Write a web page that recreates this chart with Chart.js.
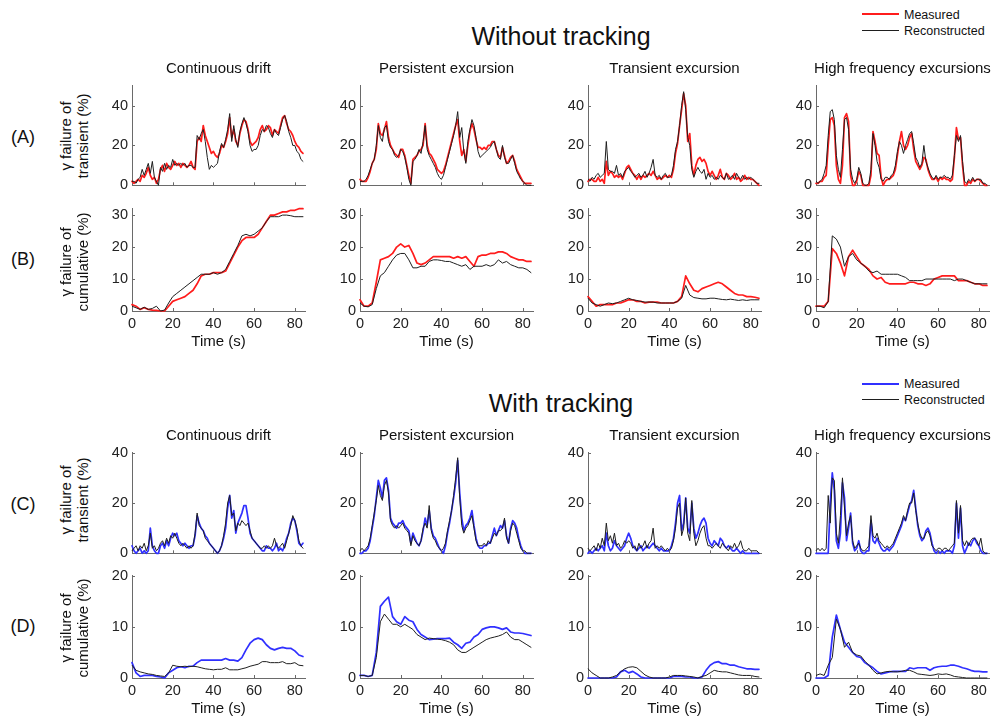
<!DOCTYPE html>
<html>
<head>
<meta charset="utf-8">
<script src="https://cdn.jsdelivr.net/npm/chart.js@4/dist/chart.umd.min.js"></script>
<style>
  html, body { margin: 0; padding: 0; background: #fff; }
  body { width: 994px; height: 720px; position: relative; overflow: hidden;
         font-family: "Liberation Sans", Arial, Helvetica, sans-serif; color: #111; }
  .t { position: absolute; white-space: nowrap; line-height: 1; }
  .yt { position: absolute; white-space: nowrap; line-height: 17px; text-align: center; }
  canvas { position: absolute; }
  .lg { position: absolute; }
</style>
</head>
<body>
<script>
// ---------------- DATA ----------------
const sectionTitles = ["Without tracking", "With tracking"];
const panelTitles = ["Continuous drift", "Persistent excursion", "Transient excursion", "High frequency excursions"];
const rowLabels = ["(A)", "(B)", "(C)", "(D)"];
const yTitles = [["γ failure of", "transient (%)"], ["γ failure of", "cumulative (%)"],
                 ["γ failure of", "transient (%)"], ["γ failure of", "cumulative (%)"]];
const seriesNames = ["Measured", "Reconstructed"];
const xAxisTitle = "Time (s)";

const timeFine = [0,1,2,3,4,5,6,7,8,9,10,11,12,13,14,15,16,17,18,19,20,21,22,23,24,25,26,27,28,29,
  30,31,32,33,34,35,36,37,38,39,40,41,42,43,44,45,46,47,48,49,50,51,52,53,54,55,56,57,58,59,
  60,61,62,63,64,65,66,67,68,69,70,71,72,73,74,75,76,77,78,79,80,81,82,83,84];
const timeCoarse = [0,2,4,6,8,10,12,14,16,18,20,22,24,26,28,30,32,34,36,38,40,42,44,46,48,50,
  52,54,56,58,60,62,64,66,68,70,72,74,76,78,80,82,84];

const xTicks = [0,20,40,60,80];
const yTicksTransNoTrack = [0,20,40];
const yTicksCumNoTrack = [0,10,20,30];
const yTicksTransTrack = [0,20,40];
const yTicksCumTrack = [0,10,20];

// (A) without tracking, transient
const ntTransDriftMeas = [2,1,2,3,2,5,4,6,9,5, 3,4,1,3,8,10,7,11,9,8, 10,12,10,11,9,11,10,9,10,12, 9,8,22,24,22,30,25,22,19,16, 17,15,14,16,20,19,22,26,34,24, 28,22,20,26,30,33,32,28,22,20, 21,22,24,28,30,27,28,30,29,25, 28,27,26,30,34,35,31,28,27,25, 22,20,19,17,16];
const ntTransDriftRec = [2,2,1,3,4,8,5,8,11,6, 12,4,2,0,9,7,11,8,10,9, 13,10,11,10,11,10,11,9,10,10, 9,9,25,23,26,28,22,14,8,10, 9,10,11,17,21,19,23,28,36,22, 30,23,19,27,31,34,31,27,20,17, 18,18,20,25,28,27,30,29,26,24, 28,26,25,29,33,35,32,27,24,20, 20,17,16,13,12];
const ntTransPersMeas = [3,2,2,2,4,7,11,13,18,31, 26,25,28,32,24,20,18,16,15,14, 18,18,15,10,5,1,13,14,15,17, 18,20,31,20,16,15,13,11,8,7, 6,7,10,14,18,22,26,30,33,22, 15,18,12,20,27,31,28,23,19,19, 18,19,18,20,20,22,22,18,15,14, 19,15,11,12,14,15,12,8,6,4, 2,1,1,1,1];
const ntTransPersRec = [2,2,2,3,5,8,11,13,20,30, 24,22,29,30,22,19,18,15,14,15, 18,17,14,9,3,0,12,13,15,18, 16,22,30,18,15,13,11,9,6,4, 3,5,9,13,17,21,25,30,37,24, 29,17,11,22,28,33,30,24,17,14, 15,16,17,18,19,21,22,18,14,13, 20,14,11,11,13,15,11,7,5,3, 2,1,0,0,0];
const ntTransTranMeas = [2,3,3,2,2,4,2,3,1,12, 5,7,6,4,5,4,5,3,6,9, 10,8,6,5,3,5,3,5,4,5, 6,5,7,5,3,4,3,4,5,4, 5,4,8,16,21,30,38,46,40,22, 26,10,5,10,13,14,12,13,11,7, 5,7,5,3,5,8,4,3,6,5, 3,4,6,3,4,2,3,5,3,4, 3,3,2,1,0];
const ntTransTranRec = [3,2,4,3,5,6,4,5,6,22, 8,7,7,6,10,5,6,4,7,8, 9,7,6,4,5,6,4,5,7,4, 6,9,13,5,4,5,3,5,6,4, 4,5,10,18,22,30,40,47,38,24, 20,8,4,7,9,7,6,8,3,6, 4,5,3,4,3,5,4,3,6,3, 4,5,3,6,4,3,5,3,4,3, 4,3,2,1,1];
const ntTransHfMeas = [1,1,2,2,4,5,20,33,34,30, 10,3,1,10,34,36,32,5,0,0, 2,7,5,0,0,0,0,5,27,22, 16,15,4,0,2,3,3,4,5,8, 15,22,27,20,18,20,24,26,18,12, 10,8,10,14,13,8,5,3,3,4, 2,4,3,4,3,3,2,3,14,29, 23,24,10,0,0,2,1,3,2,3, 3,2,1,0,0];
const ntTransHfRec = [2,1,2,3,6,10,25,37,38,33, 15,8,4,18,33,34,28,8,3,1, 3,9,6,1,0,0,1,8,26,20, 12,9,3,2,4,4,3,5,6,10, 17,22,20,16,20,23,26,27,21,14, 12,9,11,20,12,9,6,4,3,5, 3,4,4,5,4,4,3,5,15,25, 22,25,12,2,1,3,2,4,2,3, 3,3,1,1,0];

// (B) without tracking, cumulative
const ntCumDriftMeas = [2,1.5,0.5,1,0.5,0.3,0.2,0,0,1.5, 3,3.5,4,4.5,5.5,6.5,8.5,11,11.5,11.5, 12,12,12,12.5,15,17.5,20,22,23,23, 23,24,26,28,30,30,30.5,31,31,31.5, 31.5,32,32];
const ntCumDriftRec = [1.5,1,0.5,1.2,0.5,0.8,1.5,0,0.3,2.5, 4.5,5.5,6.5,7.5,8.5,9.5,10.5,11.5,11.5,11.5, 12,11.5,12,13,15.5,18,20.5,23.5,24,23.5, 24,25,26,28,29.5,29.5,29.5,30,30,29.8, 29.5,29.5,29.5];
const ntCumPersMeas = [3.5,1.5,1.5,2.5,9,16,16.5,17,18,20, 21,20,20.5,18,15,14.5,15,16,17,17, 17,17,17,16.5,17,16.5,17,15.5,14,17, 17.5,17.5,18,18,18.5,18.5,18,17,16.5,16, 16,15.5,15.5];
const ntCumPersRec = [2.5,1.5,1.3,2,7,11,12,14,16,17.5, 18,18,16,13.5,13.5,14,14,15.5,16,16, 15.8,15.5,15.5,15,14.5,14,14.5,13,14,14, 14,14.5,14,14.5,16,15,15.5,14.5,14,13.5, 13.5,13,12];
const ntCumTranMeas = [4.5,3,1.5,2,2,2,2,2.5,2.5,3, 3.5,3.5,3,3,2.5,2.8,2.8,2.8,2.5,2.5, 2.5,2.5,3,4.5,11,8.5,6.5,6,7,7.5, 8,8.5,9,8.5,7.5,6.5,5.5,5,5,4.5, 4.5,4.3,4];
const ntCumTranRec = [4,2.5,2,1.5,2,2.5,2.3,2.5,3,3.5, 4,3.5,3.3,3,2.8,2.8,2.8,2.5,2.5,2.5, 2.5,2.5,3,4,8,5,4.2,4,3.8,3.8, 4,4,3.8,3.6,3.5,3.7,3.5,3.3,3.5,3.3, 3.5,3.5,3.5];
const ntCumHfMeas = [1.5,1.5,1.5,3,19.5,18,15,11,17,19, 17,15,14,13,11,10,10.5,9,8.5,8.5, 8.5,8.5,8.5,9,9,8.5,8.5,8,8.5,10, 10.5,11,11,11,11,9.5,9.5,9.5,9,8.5, 8.5,8,8];
const ntCumHfRec = [1.5,1.5,1,3,23.5,22.5,20,14,17,18, 16,15,14,12.5,12,12.5,11.5,11.5,11.5,11.5, 11.5,11,10.5,9.5,9.5,9.5,9.5,10,10,10, 10,10,10,10,9.5,10,10,9.5,9,8.5, 8.5,8.5,8.5];

// (C) with tracking, transient
const trTransDriftMeas = [3,1,0,1,2,0,1,0,1,10, 3,1,0,0,3,4,2,5,3,6, 8,7,8,5,4,3,4,3,2,3, 3,7,15,12,10,9,7,6,4,3, 2,1,0,1,3,6,10,18,23,14, 17,8,12,14,16,19,19,14,8,6, 5,4,3,2,1,1,3,2,2,1, 2,4,1,2,1,3,6,8,12,14, 13,9,4,3,4];
const trTransDriftRec = [1,2,3,1,3,2,4,1,3,8, 2,3,1,2,4,5,3,6,4,7, 6,8,6,4,3,4,3,2,3,2, 3,8,16,11,10,9,6,5,4,3, 2,1,0,1,3,7,12,20,23,15, 16,9,12,11,13,12,11,12,9,6, 5,4,3,2,2,3,2,3,2,3, 6,3,2,3,4,2,5,8,11,15, 13,10,5,3,2];
const trTransPersMeas = [0,0,1,1,2,5,10,15,22,29, 26,22,29,30,25,14,12,11,10,12, 12,13,11,10,9,4,8,6,4,3, 5,9,14,11,17,10,7,6,4,2, 1,0,3,8,12,17,22,28,37,24, 14,9,11,12,14,17,11,6,3,2, 2,3,3,4,4,7,10,7,9,11, 10,13,7,4,10,13,12,10,6,3, 1,0,0,0,0];
const trTransPersRec = [1,2,1,2,3,6,11,16,21,27, 23,21,27,29,24,13,11,10,11,10, 11,12,10,9,8,3,7,5,4,3, 5,10,12,10,19,9,6,5,3,2, 1,2,4,9,13,17,23,30,38,22, 11,8,10,11,13,15,10,5,3,3, 3,4,3,5,4,6,8,7,9,9, 10,14,6,4,9,12,11,8,5,2, 1,1,0,0,0];
const trTransTranMeas = [0,1,0,1,2,1,2,3,1,8, 3,1,2,5,3,2,1,2,3,6, 8,6,3,2,1,2,3,1,2,3, 2,3,4,3,2,1,2,1,1,1, 1,3,6,12,20,23,9,12,22,10, 8,20,10,6,8,11,13,14,12,6, 4,3,5,4,3,6,5,3,2,3, 2,1,1,2,1,0,1,0,0,0, 0,0,0,0,0];
const trTransTranRec = [2,1,2,3,1,4,2,6,3,12, 5,7,4,8,3,4,2,3,5,4, 5,4,2,3,1,4,2,3,5,2, 4,5,10,2,3,2,3,2,1,2, 1,2,5,10,18,20,7,10,22,8, 5,21,8,3,5,8,10,11,6,3, 3,2,3,4,3,2,4,3,2,1, 3,2,4,2,3,5,2,1,1,2, 1,1,1,1,0];
const trTransHfMeas = [0,0,0,0,0,0,0,20,32,25, 5,2,8,28,22,5,10,16,4,1, 2,5,1,0,0,1,1,13,5,4, 6,4,2,1,1,2,1,2,3,5, 7,9,11,14,13,16,19,21,25,18, 11,7,5,6,9,10,8,4,1,0, 1,0,1,0,1,1,1,0,3,20, 6,18,3,0,2,4,3,5,6,4, 3,1,0,0,0];
const trTransHfRec = [1,2,1,2,1,2,23,12,30,29, 8,4,15,30,18,7,12,15,5,2, 3,4,2,1,1,2,3,15,7,6, 8,5,4,3,2,3,2,3,4,6, 8,10,12,15,13,17,20,20,24,17, 12,8,6,6,8,9,7,3,2,1, 2,2,1,2,2,1,2,3,4,21, 8,19,5,3,5,3,5,6,6,5, 3,6,1,0,0];

// (D) with tracking, cumulative
const trCumDriftMeas = [3,1,0.3,0.5,0.5,0.5,0.3,0.2,0,1, 1.5,2,2.2,2,2.3,2.3,3,3.5,3.5,3.5, 3.5,3.5,3.5,3.8,3.5,3.5,3.3,4,5.5,6.8, 7.5,7.8,7.5,6.5,5.8,5.5,5.8,6,5.8,5.8, 5.3,4.5,4.2];
const trCumDriftRec = [2.5,1.5,1.2,1,0.8,0.7,0.5,0.4,0.3,1, 2.5,2.3,2.2,2.3,2.2,2.3,2.2,2,1.8,1.7, 1.6,1.7,1.7,2,1.6,1.6,1.6,1.8,2,2.3, 2.5,2.7,3.2,3.2,3,3,3,3.2,2.8,2.8, 3,2.5,2.4];
const trCumPersMeas = [0.5,0.5,0.3,0.5,5,14,15,15.8,12,11, 10.5,12,11.3,11,9.5,8.5,8,7.5,7.6,7.7, 7.7,7.7,7.8,7,6.5,5.8,6.8,7,8,8.5, 9.5,9.8,10,10,9.8,9.5,9.8,9,8.8,8.8, 8.7,8.5,8.3];
const trCumPersRec = [0.5,0.5,0.3,0.5,4,11,12.5,11.5,10.5,10.5, 10,10.5,10,9.5,8.5,8,7.5,7.8,7.7,7.6, 7.5,7.3,7,6.5,5.5,5,5,5.5,6,6.5, 7,7.5,7.8,8,8.2,8.5,9,8,7.5,7.5, 7,6.5,6];
const trCumTranMeas = [0,0,0,0,0,0,0,0.2,1.2,1.5, 1,1.3,0.8,0.2,0,0,0,0,0,0, 0,0.3,0.3,0.3,0.2,0.2,0,0,0.2,1.5, 2.5,3,3.2,2.8,2.8,2.5,2.5,2.2,2,1.8, 1.8,1.7,1.7];
const trCumTranRec = [1.8,1,0.5,0,0,0,0.2,0.5,1.2,1.8, 2.1,2.2,2,1.3,0.6,0.2,0,0,0,0, 0.2,0.5,0.5,0.5,0.4,0.3,0.2,0,0.3,0.5, 1,1.5,1.3,1.2,1.2,1,0.8,0.6,0.5,0.5, 0.5,0.3,0.2];
const trCumHfMeas = [0,0,0,0.5,8,12.3,9.5,7,6,5, 4.2,4,3,2.5,2,1.3,0.8,1,1.2,1.3, 1.3,1.3,1.3,2,1.8,2,2,2,1.5,2, 2.2,2.3,2.3,2.5,2.5,2.3,2,1.8,1.5,1.3, 1.3,1.2,1.2];
const trCumHfRec = [0.5,0.8,0.5,2.5,4,11.5,9.5,6,7,5, 4.5,4.3,3.3,2.5,1.5,0.8,1,1.2,1.3,1.2, 1.2,1.3,1.5,1.5,1.2,0.8,0.7,0.6,0.5,0.6, 0.8,0.7,0.8,0.6,0.3,0.2,0.1,0,0,0, 0,0,0];

// ---------------- LAYOUT / STYLE ----------------
const FONT = '"Liberation Sans", Arial, Helvetica, sans-serif';
const AXIS_COLOR = '#6a6a6a';
const TICK_COLOR = '#222';
const RED = 'rgb(255,28,28)';
const BLUE = 'rgb(48,48,255)';
const BLACK = '#1e1e1e';
const COL_LEFT = [132, 360, 588, 816];
const PLOT_W = 173;
const Y_W = 34, PAD_T = 10, PAD_R = 6;

const rows = [
  { top: 83,  h: 105, ymax: 50, yTicks: yTicksTransNoTrack, time: timeFine, color: RED, labels: false, xH: 10,
    meas: [ntTransDriftMeas, ntTransPersMeas, ntTransTranMeas, ntTransHfMeas],
    rec:  [ntTransDriftRec,  ntTransPersRec,  ntTransTranRec,  ntTransHfRec] },
  { top: 206, h: 105, ymax: 32, yTicks: yTicksCumNoTrack, time: timeCoarse, color: RED, labels: true, xH: 24,
    meas: [ntCumDriftMeas, ntCumPersMeas, ntCumTranMeas, ntCumHfMeas],
    rec:  [ntCumDriftRec,  ntCumPersRec,  ntCumTranRec,  ntCumHfRec] },
  { top: 450, h: 106, ymax: 40, yTicks: yTicksTransTrack, time: timeFine, color: BLUE, labels: false, xH: 10,
    meas: [trTransDriftMeas, trTransPersMeas, trTransTranMeas, trTransHfMeas],
    rec:  [trTransDriftRec,  trTransPersRec,  trTransTranRec,  trTransHfRec] },
  { top: 573, h: 105, ymax: 20, yTicks: yTicksCumTrack, time: timeCoarse, color: BLUE, labels: true, xH: 24,
    meas: [trCumDriftMeas, trCumPersMeas, trCumTranMeas, trCumHfMeas],
    rec:  [trCumDriftRec,  trCumPersRec,  trCumTranRec,  trCumHfRec] }
];

const inwardTicks = {
  id: 'inwardTicks',
  afterDatasetsDraw(chart) {
    const { ctx, chartArea: a, scales: { x, y } } = chart;
    ctx.save();
    ctx.strokeStyle = AXIS_COLOR;
    ctx.lineWidth = 1;
    ctx.beginPath();
    x.ticks.forEach(t => {
      if (t.value === 0) return;
      const px = Math.round(x.getPixelForValue(t.value)) + 0.5;
      ctx.moveTo(px, a.bottom); ctx.lineTo(px, a.bottom - 3);
    });
    y.ticks.forEach(t => {
      if (t.value === 0) return;
      const py = Math.round(y.getPixelForValue(t.value)) + 0.5;
      ctx.moveTo(a.left, py); ctx.lineTo(a.left + 3, py);
    });
    ctx.stroke();
    ctx.restore();
  }
};

function pts(time, vals) { return time.map((t, i) => ({ x: t, y: vals[i] })); }

rows.forEach((row, r) => {
  COL_LEFT.forEach((left, c) => {
    const cv = document.createElement('canvas');
    const w = Y_W + PLOT_W + PAD_R;
    const h = PAD_T + row.h + row.xH;
    cv.width = w; cv.height = h;
    cv.style.left = (left - Y_W) + 'px';
    cv.style.top = (row.top - PAD_T) + 'px';
    cv.style.width = w + 'px'; cv.style.height = h + 'px';
    document.body.appendChild(cv);
    new Chart(cv, {
      type: 'line',
      data: {
        datasets: [
          { label: seriesNames[0], data: pts(row.time, row.meas[c]), borderColor: row.color,
            borderWidth: 1.7, order: 2, clip: false },
          { label: seriesNames[1], data: pts(row.time, row.rec[c]), borderColor: BLACK,
            borderWidth: 1, order: 1, clip: false }
        ]
      },
      options: {
        responsive: false, animation: false, devicePixelRatio: 1,
        layout: { padding: { left: 0, right: PAD_R, top: PAD_T, bottom: 0 } },
        plugins: { legend: { display: false }, tooltip: { enabled: false } },
        elements: { point: { radius: 0 }, line: { tension: 0, borderJoinStyle: 'round', borderCapStyle: 'round' } },
        scales: {
          x: {
            type: 'linear', min: 0, max: 85,
            grid: { display: false, drawTicks: false },
            border: { display: true, color: AXIS_COLOR, width: 1 },
            ticks: { display: row.labels, color: TICK_COLOR, padding: 4, maxRotation: 0, autoSkip: false,
                     includeBounds: false, font: { family: FONT, size: 14.5 } },
            afterBuildTicks: s => { s.ticks = xTicks.map(v => ({ value: v })); },
            afterFit: s => { s.height = row.xH; }
          },
          y: {
            type: 'linear', min: 0, max: row.ymax,
            grid: { display: false, drawTicks: false },
            border: { display: true, color: AXIS_COLOR, width: 1 },
            ticks: { color: TICK_COLOR, padding: 4, includeBounds: false, font: { family: FONT, size: 14.5 } },
            afterBuildTicks: s => { s.ticks = row.yTicks.map(v => ({ value: v })); },
            afterFit: s => { s.width = Y_W; }
          }
        }
      },
      plugins: [inwardTicks]
    });
  });
});

// ---------------- TEXT ----------------
function addText(txt, cx, cy, size) {
  const d = document.createElement('div');
  d.className = 't';
  d.textContent = txt;
  d.style.fontSize = size + 'px';
  d.style.left = cx + 'px'; d.style.top = cy + 'px';
  d.style.transform = 'translate(-50%,-50%)';
  document.body.appendChild(d);
}
function addYTitle(lines, cx, cy) {
  const d = document.createElement('div');
  d.className = 'yt';
  d.innerHTML = lines.map(s => '<div>' + s + '</div>').join('');
  d.style.fontSize = '15px';
  d.style.left = cx + 'px'; d.style.top = cy + 'px';
  d.style.transform = 'translate(-50%,-50%) rotate(-90deg)';
  document.body.appendChild(d);
}
function addLegend(y0, color) {
  const items = [[color, 2, y0], [BLACK, 1, y0 + 16]];
  items.forEach((it, i) => {
    const ln = document.createElement('div');
    ln.className = 'lg';
    ln.style.left = '862px'; ln.style.width = '37px';
    ln.style.top = (it[2] - it[1] / 2) + 'px'; ln.style.height = it[1] + 'px';
    ln.style.background = it[0];
    document.body.appendChild(ln);
    const d = document.createElement('div');
    d.className = 't';
    d.textContent = seriesNames[i];
    d.style.fontSize = '12.5px';
    d.style.left = '904px'; d.style.top = (it[2] + 0.5) + 'px';
    d.style.transform = 'translate(0,-50%)';
    document.body.appendChild(d);
  });
}

addText(sectionTitles[0], 561, 35.5, 25);
addText(sectionTitles[1], 561, 403, 25);
const colCenters = COL_LEFT.map(l => l + PLOT_W / 2);
colCenters.forEach((cx, i) => {
  addText(panelTitles[i], cx, 67, 15);
  addText(panelTitles[i], cx, 433.5, 15);
  addText(xAxisTitle, cx, 339.5, 15);
  addText(xAxisTitle, cx, 706.5, 15);
});
const rowLabelY = [136.5, 259, 503.5, 626];
const yTitleY = [136, 262, 499.5, 627.5];
rowLabels.forEach((lab, i) => {
  addText(lab, 23, rowLabelY[i], 18);
  addYTitle(yTitles[i], 73.5, yTitleY[i]);
});
addLegend(14, RED);
addLegend(383.5, BLUE);
</script>
</body>
</html>
